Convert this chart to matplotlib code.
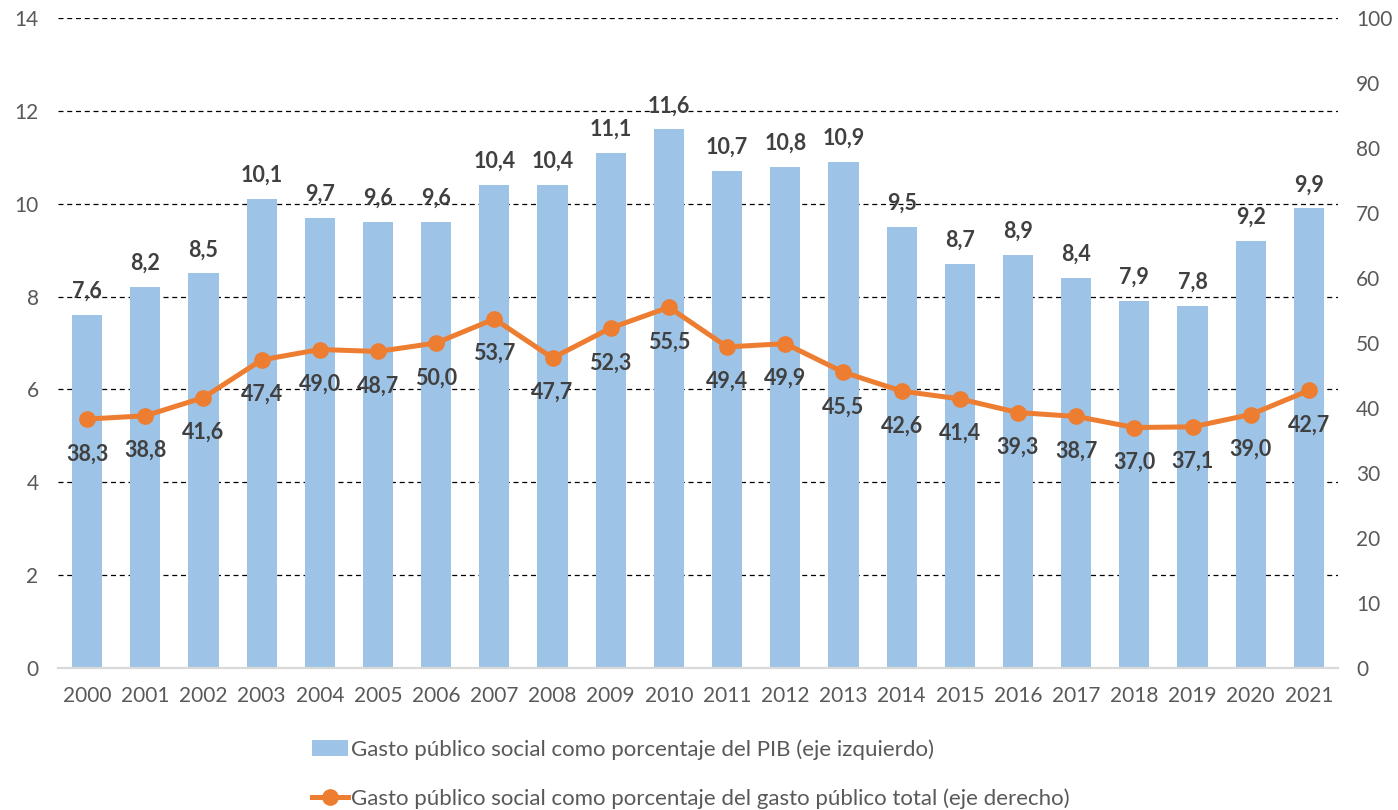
import matplotlib
matplotlib.use("Agg")
import matplotlib.pyplot as plt
from matplotlib.patches import Patch
from matplotlib.lines import Line2D
import numpy as np

years = [str(y) for y in range(2000, 2022)]
pib = [7.6, 8.2, 8.5, 10.1, 9.7, 9.6, 9.6, 10.4, 10.4, 11.1, 11.6, 10.7, 10.8, 10.9,
       9.5, 8.7, 8.9, 8.4, 7.9, 7.8, 9.2, 9.9]
gasto = [38.3, 38.8, 41.6, 47.4, 49.0, 48.7, 50.0, 53.7, 47.7, 52.3, 55.5, 49.4, 49.9,
         45.5, 42.6, 41.4, 39.3, 38.7, 37.0, 37.1, 39.0, 42.7]
left_ticks = [0, 2, 4, 6, 8, 10, 12, 14]
right_ticks = [0, 10, 20, 30, 40, 50, 60, 70, 80, 90, 100]
label_bar = "Gasto público social como porcentaje del PIB (eje izquierdo)"
label_line = "Gasto público social como porcentaje del gasto público total (eje derecho)"

plt.rcParams['font.family'] = ['Lato', 'DejaVu Sans']

BAR = '#9DC3E6'
LINE = '#ED7D31'
TXT = '#404040'
TICK = '#595959'

fig = plt.figure(figsize=(13.98, 8.10), dpi=100)
ax = fig.add_axes([58/1398, 1-668/810, 1280/1398, 650/810])
ax2 = ax.twinx()

x = np.arange(len(years))
ax.bar(x, pib, width=0.52, color=BAR, zorder=2)
ax.set_xlim(-0.5, len(years) - 0.5)
ax.set_ylim(0, 14)
ax.set_yticks(left_ticks)
for t in left_ticks[1:]:
    ax.axhline(t, color='black', lw=0.9, ls=(0, (4, 3)), zorder=1)

ax2.plot(x, gasto, color=LINE, lw=3.6, marker='o', markersize=11, zorder=3)
ax2.set_ylim(0, 100)
ax2.set_yticks(right_ticks)

for a in (ax, ax2):
    for s in a.spines.values():
        s.set_visible(False)
    a.tick_params(length=0, labelsize=15, labelcolor=TICK)
ax.spines['bottom'].set_visible(True)
ax.spines['bottom'].set_color('#D9D9D9')
ax.spines['bottom'].set_linewidth(1.6)
ax.set_xticks(x)
ax.set_xticklabels(years)
ax.tick_params(axis='x', pad=13)
ax.tick_params(axis='y', pad=14)
ax2.tick_params(axis='y', pad=13)

for xi, v in zip(x, pib):
    ax.annotate(f"{v:.1f}".replace('.', ','), (xi, v), xytext=(0, 17), textcoords='offset points',
                ha='center', va='center', fontsize=15.5, fontweight='bold', color=TXT, zorder=5)
for xi, v in zip(x, gasto):
    ax2.annotate(f"{v:.1f}".replace('.', ','), (xi, v), xytext=(0, -25), textcoords='offset points',
                 ha='center', va='center', fontsize=15.5, fontweight='bold', color=TXT, zorder=5)

handles = [Patch(facecolor=BAR, edgecolor='none'),
           Line2D([0], [0], color=LINE, lw=3.6, marker='o', markersize=11)]
fig.legend(handles, [label_bar, label_line], loc='upper left',
           bbox_to_anchor=(292/1398, 1-719/810), frameon=False, fontsize=16,
           labelcolor=TICK, handlelength=1.6, handletextpad=0.15, labelspacing=1.3)

fig.savefig('out.png', dpi=100)
